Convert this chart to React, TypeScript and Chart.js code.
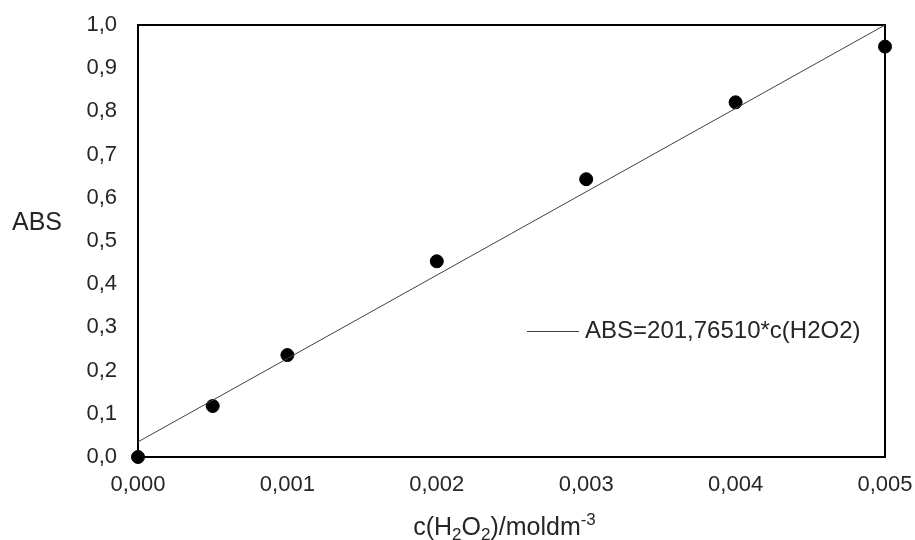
import React, { useEffect, useRef } from "react";
import { Chart, registerables } from "chart.js";

Chart.register(...registerables);

const concentrations = [0, 0.0005, 0.001, 0.002, 0.003, 0.004, 0.005];
const absorbances = [0.0, 0.118, 0.236, 0.453, 0.643, 0.821, 0.95];
const fitX = [0, 0.005];
const fitY = [0.035, 1.0];
const fitLabel = "ABS=201,76510*c(H2O2)";
const yTitle = "ABS";
const xTitleParts = [
  { t: "c(H", s: 0 },
  { t: "2", s: -1 },
  { t: "O", s: 0 },
  { t: "2", s: -1 },
  { t: ")/moldm", s: 0 },
  { t: "-3", s: 1 },
];

const FONT = "'Liberation Sans', Arial, sans-serif";
const TEXT = "#262626";

const framePlugin = {
  id: "frame",
  beforeDatasetsDraw(chart: any) {
    const { ctx, chartArea: a } = chart;
    ctx.save();
    ctx.strokeStyle = "#000";
    ctx.lineWidth = 2;
    ctx.strokeRect(a.left, a.top, a.right - a.left, a.bottom - a.top);
    ctx.restore();
  },
  afterDraw(chart: any) {
    const { ctx, chartArea: a } = chart;
    ctx.save();
    ctx.fillStyle = TEXT;
    // Y title (horizontal)
    ctx.font = `25px ${FONT}`;
    ctx.textAlign = "left";
    ctx.textBaseline = "middle";
    ctx.fillText(yTitle, 12, (a.top + a.bottom) / 2 - 18);

    // X title with sub/superscripts
    const big = `25px ${FONT}`;
    const small = `17px ${FONT}`;
    let total = 0;
    for (const p of xTitleParts) {
      ctx.font = p.s === 0 ? big : small;
      total += ctx.measureText(p.t).width;
    }
    let x = (a.left + a.right) / 2 - total / 2 - 7;
    const base = 535;
    ctx.textBaseline = "alphabetic";
    for (const p of xTitleParts) {
      ctx.font = p.s === 0 ? big : small;
      const dy = p.s === -1 ? 5 : p.s === 1 ? -10 : 0;
      ctx.fillText(p.t, x, base + dy);
      x += ctx.measureText(p.t).width;
    }

    // Legend
    const ly = 331;
    const lx = 527;
    ctx.strokeStyle = "#404040";
    ctx.lineWidth = 1;
    ctx.beginPath();
    ctx.moveTo(lx, ly + 0.5);
    ctx.lineTo(lx + 52, ly + 0.5);
    ctx.stroke();
    ctx.font = `24px ${FONT}`;
    ctx.textBaseline = "middle";
    ctx.fillText(fitLabel, lx + 58, ly);
    ctx.restore();
  },
};

export default function App() {
  const ref = useRef<HTMLCanvasElement>(null);
  useEffect(() => {
    document.body.style.margin = "0";
    const chart = new Chart(ref.current as HTMLCanvasElement, {
      type: "scatter",
      data: {
        datasets: [
          {
            label: fitLabel,
            type: "line",
            data: fitX.map((x, i) => ({ x, y: fitY[i] })),
            borderColor: "#404040",
            borderWidth: 1,
            pointRadius: 0,
            fill: false,
          },
          {
            label: "data",
            data: concentrations.map((x, i) => ({ x, y: absorbances[i] })),
            backgroundColor: "#000",
            borderColor: "#000",
            pointRadius: 6.5,
            clip: false,
          } as any,
        ],
      },
      options: {
        animation: false,
        responsive: false,
        layout: { padding: { top: 25, right: 30, left: 0, bottom: 0 } },
        plugins: { legend: { display: false }, tooltip: { enabled: false } },
        scales: {
          x: {
            type: "linear",
            min: 0,
            max: 0.005,
            grid: { display: false, drawTicks: false },
            border: { display: false },
            ticks: {
              stepSize: 0.001,
              color: TEXT,
              font: { size: 22, family: FONT },
              padding: 15,
              maxRotation: 0,
              callback: (v: any) => Number(v).toFixed(3).replace(".", ","),
            },
            afterFit: (s: any) => {
              s.height = 83;
              s.paddingLeft = 0;
              s.paddingRight = 0;
            },
          },
          y: {
            type: "linear",
            min: 0,
            max: 1,
            grid: { display: false, drawTicks: false },
            border: { display: false },
            ticks: {
              stepSize: 0.1,
              color: TEXT,
              font: { size: 22, family: FONT },
              padding: 21,
              callback: (v: any) => Number(v).toFixed(1).replace(".", ","),
            },
            afterFit: (s: any) => {
              s.width = 138;
              s.paddingTop = 0;
              s.paddingBottom = 0;
            },
          },
        },
      },
      plugins: [framePlugin],
    });
    return () => chart.destroy();
  }, []);
  return <canvas ref={ref} width={915} height={540} style={{ display: "block" }} />;
}
